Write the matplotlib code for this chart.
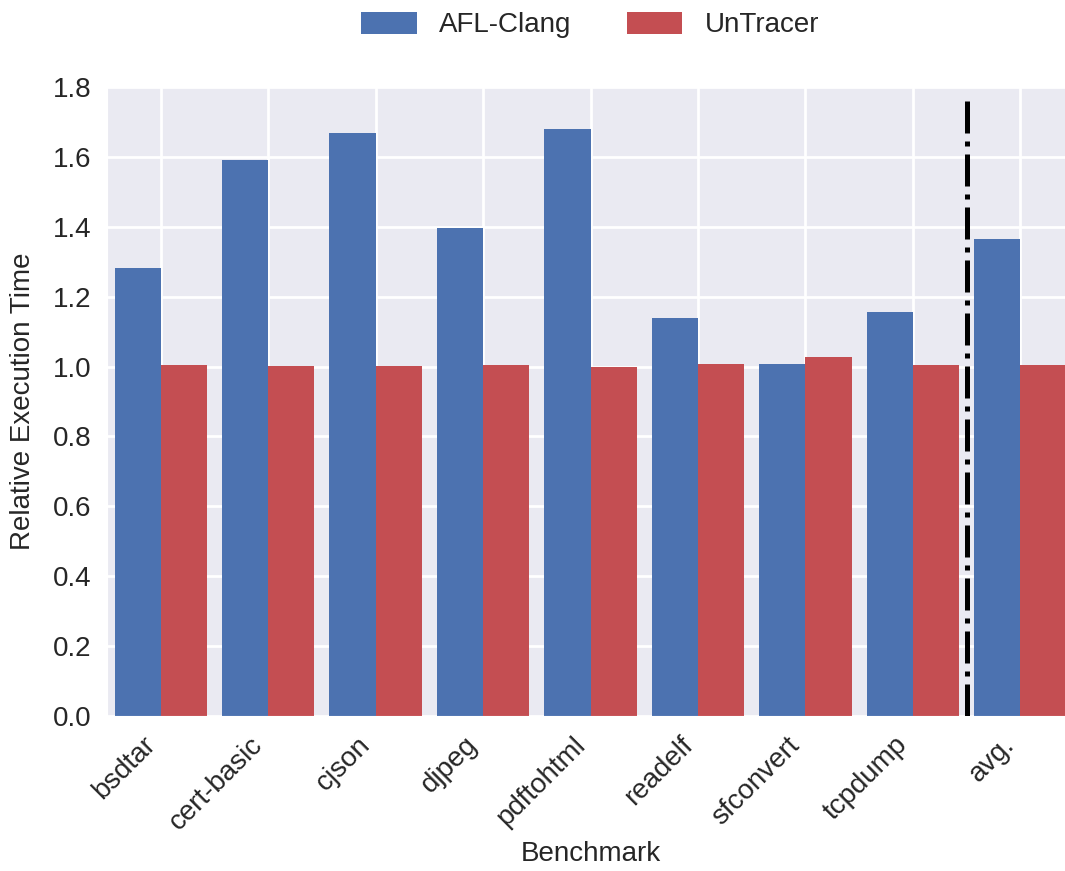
import numpy as np
import matplotlib
matplotlib.use("Agg")
import matplotlib.pyplot as plt
import seaborn as sns

# data
benchmarks = ["bsdtar", "cert-basic", "cjson", "djpeg", "pdftohtml",
              "readelf", "sfconvert", "tcpdump", "avg."]
afl_clang = [1.282, 1.591, 1.668, 1.397, 1.680, 1.139, 1.007, 1.156, 1.365]
untracer = [1.005, 1.002, 1.002, 1.005, 0.999, 1.007, 1.027, 1.005, 1.005]
series_names = ["AFL-Clang", "UnTracer"]

sns.set_style("darkgrid")
plt.rcParams['font.family'] = ['Liberation Sans', 'DejaVu Sans']

fig = plt.figure(figsize=(10.65, 8.71), dpi=100)
ax = fig.add_axes([107 / 1065, 155 / 871, (1074 - 107) / 1065, (716 - 87) / 871])

x = np.arange(len(benchmarks))
w = 0.43
ax.bar(x - w / 2, afl_clang, w, color="#4C72B0", linewidth=0, label=series_names[0], zorder=2)
ax.bar(x + w / 2, untracer, w, color="#C44E52", linewidth=0, label=series_names[1], zorder=2)

# separator before the average
ax.axvline(7.5, ymin=0, ymax=0.99, color="black", linestyle="-.", linewidth=3.6, zorder=3)

ax.set_xlim(-0.5, 8.5)
ax.set_ylim(0, 1.8)
ax.set_yticks(np.arange(0, 1.81, 0.2))
ax.set_yticklabels([f"{v:.1f}" for v in np.arange(0, 1.81, 0.2)])
ax.set_xticks(x)
ax.set_xticklabels(benchmarks, rotation=45, ha="right")
ax.tick_params(labelsize=20, colors="#262626", pad=8)
ax.grid(True, color="white", linewidth=2)
ax.set_axisbelow(True)

ax.set_xlabel("Benchmark", fontsize=20, color="#262626")
ax.set_ylabel("Relative Execution Time", fontsize=20, color="#262626", labelpad=12)

fig.legend(loc="center", bbox_to_anchor=(590 / 1065, 1 - 25 / 871), ncol=2,
           frameon=False, fontsize=20, handleheight=0.85)

fig.savefig("out.png", dpi=100)
